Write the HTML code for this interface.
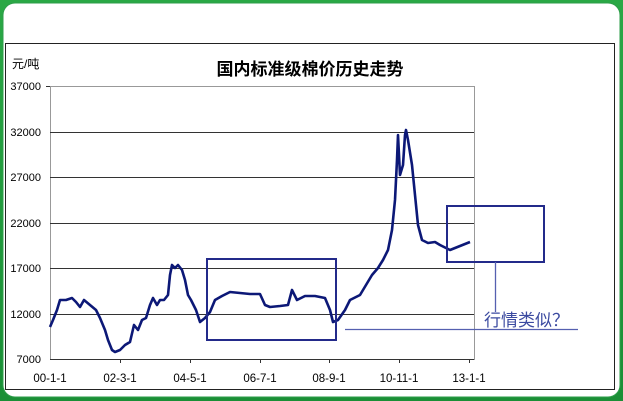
<!DOCTYPE html>
<html><head><meta charset="utf-8"><style>
html,body{margin:0;padding:0;width:623px;height:401px;overflow:hidden;background:#1f9a3c;}
</style></head><body>
<svg width="623" height="401" viewBox="0 0 623 401" xmlns="http://www.w3.org/2000/svg" style="display:block">
<defs><linearGradient id="g" x1="0" y1="0" x2="0" y2="1"><stop offset="0" stop-color="#2aa845"/><stop offset="1" stop-color="#1a8f36"/></linearGradient></defs>
<rect width="623" height="401" fill="url(#g)"/>
<rect x="3" y="3" width="617" height="394" rx="12" fill="#fff" stroke="#2e9e4a" stroke-width="1"/>
<rect x="5.5" y="43.5" width="609" height="346" fill="#fff" stroke="#222" stroke-width="1"/>
<g font-family="Liberation Sans, Noto Sans CJK SC, sans-serif" fill="#000">
<text x="12" y="68" font-size="12">元/吨</text>
<text x="310" y="75" font-size="17" font-weight="bold" text-anchor="middle">国内标准级棉价历史走势</text>
<g font-size="11" text-anchor="end">
<text x="41" y="90">37000</text><text x="41" y="136">32000</text><text x="41" y="181">27000</text>
<text x="41" y="227">22000</text><text x="41" y="272">17000</text><text x="41" y="318">12000</text><text x="41" y="363">7000</text>
</g>
<g font-size="11.5" text-anchor="middle">
<text x="50" y="382">00-1-1</text><text x="120" y="382">02-3-1</text><text x="190" y="382">04-5-1</text>
<text x="260" y="382">06-7-1</text><text x="329" y="382">08-9-1</text><text x="399" y="382">10-11-1</text><text x="469" y="382">13-1-1</text>
</g>
</g>
<rect x="50.5" y="86.5" width="424" height="273" fill="none" stroke="#999"/>
<g stroke="#333" stroke-width="1">
<line x1="50" y1="132.5" x2="474" y2="132.5"/><line x1="50" y1="177.5" x2="474" y2="177.5"/>
<line x1="50" y1="223.5" x2="474" y2="223.5"/><line x1="50" y1="268.5" x2="474" y2="268.5"/>
<line x1="50" y1="314.5" x2="474" y2="314.5"/><line x1="50" y1="359.5" x2="474" y2="359.5"/>
<line x1="46" y1="86.5" x2="50" y2="86.5"/>
<line x1="120.5" y1="359" x2="120.5" y2="363"/><line x1="190.5" y1="359" x2="190.5" y2="363"/><line x1="260.5" y1="359" x2="260.5" y2="363"/>
<line x1="329.5" y1="359" x2="329.5" y2="363"/><line x1="399.5" y1="359" x2="399.5" y2="363"/><line x1="469.5" y1="359" x2="469.5" y2="363"/>
</g>
<polyline fill="none" stroke="#0c1877" stroke-width="2.6" stroke-linejoin="round" points="50,327 53,320 57,310 60,300 66,300 72,298 76,302 80,307 84,300 90,305 96,310 100,318 105,330 108,340 112,350 115,352 120,350 125,345 130,342 134,325 138,330 142,320 146,318 150,305 153,298 157,305 160,300 164,300 168,295 170,275 172,265 175,268 178,265 182,270 185,280 188,295 191,300 196,310 200,322 205,318 210,312 215,300 222,296 230,292 240,293 250,294 260,294 265,305 270,307 280,306 288,305 292,290 297,300 305,296 315,296 325,298 330,310 333,322 338,320 345,310 350,300 360,295 366,285 372,275 378,268 383,260 388,250 392,230 395,200 397,160 398,135 400,175 403,165 405,135 406,130 408,140 412,165 415,195 418,225 422,240 428,243 435,242 440,245 450,250 460,246 470,242"/>
<g fill="none" stroke="#232a8a" stroke-width="2">
<rect x="207" y="259" width="129" height="81"/>
<rect x="447" y="206" width="97" height="56"/>
</g>
<g stroke="#5560b0" stroke-width="1.3">
<line x1="495.5" y1="262" x2="495.5" y2="312"/>
<line x1="345" y1="329.5" x2="578" y2="329.5"/>
</g>
<text x="484" y="326" font-family="Liberation Sans, Noto Sans CJK SC, sans-serif" font-size="17" fill="#3b4aa0">行情类似？</text>
</svg>
</body></html>
